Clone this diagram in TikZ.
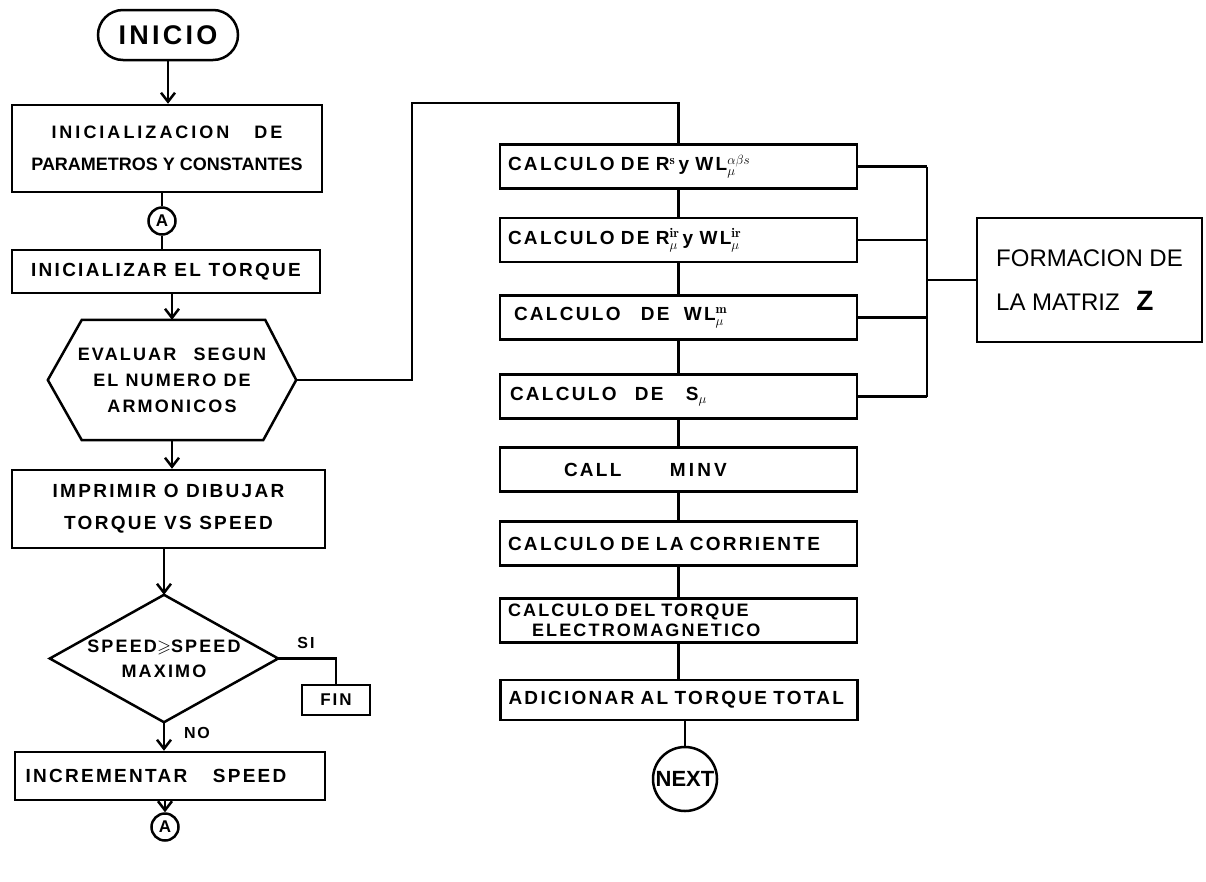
\documentclass[tikz,border=0pt]{standalone}
\usepackage{fix-cm}
\usepackage{amssymb}
\usepackage{fontspec}
\usetikzlibrary{positioning,arrows.meta}
\newfontfamily\rotulo{Liberation Sans}[LetterSpace=12]
\newfontfamily\plano{Liberation Sans}

\tikzset{
  linea/.style={line width=2.5pt},
  flecha/.style={line width=2.5pt, -{Straight Barb[length=9pt,width=14pt]}},
  caja/.style={draw, line width=2.5pt, inner sep=0pt, align=center,
    font=\rotulo\bfseries\fontsize{19}{32}\selectfont},
  calculo/.style={draw, line width=2.5pt, minimum height=44pt, text width=341pt,
    inner xsep=8pt, inner ysep=0pt, align=left,
    font=\rotulo\bfseries\fontsize{19}{22}\selectfont},
  conector/.style={draw, circle, line width=2.5pt, minimum size=27pt, inner sep=0pt,
    font=\plano\bfseries\fontsize{17}{17}\selectfont},
  etiqueta/.style={font=\rotulo\bfseries\fontsize{16}{16}\selectfont, inner sep=0pt}
}

\begin{document}
\begin{tikzpicture}[x=1pt, y=-1pt]
  \useasboundingbox (0,0) rectangle (1206,881);

  % Left column
  \node[caja, rounded corners=25pt, minimum width=140pt, minimum height=50pt,
    font=\rotulo\bfseries\fontsize{27}{27}\selectfont] (inicio) at (168,35) {INICIO};
  \node[caja, minimum width=310pt, minimum height=87pt,
    font=\plano\bfseries\fontsize{18}{32}\selectfont] (init) at (167,148.5)
    {I\,N\,I\,C\,I\,A\,L\,I\,Z\,A\,C\,I\,O\,N\hspace{20pt} D\,E\\PARAMETROS Y CONSTANTES};
  \node[conector] (ca) at (162,221) {A};
  \node[caja, minimum width=308pt, minimum height=43pt] (torque) at (166,271.5)
    {INICIALIZAR EL TORQUE};

  % Hexagon (drawn round the node)
  \node[align=center, minimum width=248pt, minimum height=120pt, inner sep=0pt,
    font=\rotulo\bfseries\fontsize{18}{26}\selectfont] (hex) at (172,380)
    {EVALUAR\hspace{10pt} SEGUN\\EL NUMERO DE\\ARMONICOS};
  \draw[linea] (hex.west) -- ([xshift=34pt]hex.north west) -- ([xshift=-31pt]hex.north east)
    -- (hex.east) -- ([xshift=-33pt]hex.south east) -- ([xshift=34pt]hex.south west) -- cycle;

  \node[caja, minimum width=313pt, minimum height=78pt] (print) at (168.5,509)
    {IMPRIMIR O DIBUJAR\\TORQUE VS SPEED};

  % Decision (drawn round the node)
  \node[align=center, minimum width=228pt, minimum height=127pt, inner sep=0pt,
    font=\rotulo\bfseries\fontsize{18}{25}\selectfont] (dec) at (164,658.5)
    {SPEED$\geqslant$SPEED\\MAXIMO};
  \draw[linea] (dec.north) -- (dec.east) -- (dec.south) -- (dec.west) -- cycle;

  \node[caja, minimum width=68pt, minimum height=30pt,
    font=\rotulo\bfseries\fontsize{17}{17}\selectfont] (fin) at (336,700) {FIN};
  \node[caja, minimum width=310pt, minimum height=48pt] (incr) at (170,776)
    {INCREMENTAR\hspace{18pt} SPEED\hspace{28pt}};
  \node[conector] (cb) at (165,827) {A};
  \node[etiqueta] (si) at (306,643) {SI};
  \node[etiqueta] (no) at (197,733) {NO};

  \draw[flecha] (inicio.south) -- (inicio.south |- init.north);
  \draw[linea] (init.south -| ca) -- (ca);
  \draw[linea] (ca) -- (ca |- torque.north);
  \draw[flecha] (torque.south -| hex.north) -- (hex.north);
  \draw[flecha] (hex.south) -- (hex.south |- print.north);
  \draw[flecha] (print.south -| dec.north) -- (dec.north);
  \draw[linea] (dec.east) -| (fin.north);
  \draw[flecha] (dec.south) -- (dec.south |- incr.north);
  \draw[flecha] (incr.south -| cb) -- (cb);

  % Right column
  \node[calculo] (r1) at (678.5,166.5)
    {CALCULO DE R$^{\mathbf{s}}$\,y WL$^{\alpha\beta s}_{\mu}$};
  \node[calculo] (r2) at (678.5,240)
    {CALCULO DE R$^{\mathbf{ir}}_{\mu}$\,y WL$^{\mathbf{ir}}_{\mu}$};
  \node[calculo] (r3) at (678.5,317.5)
    {\hspace*{6pt}CALCULO\hspace{14pt} DE\hspace{8pt} WL$^{\mathbf{m}}_{\mu}$};
  \node[calculo] (r4) at (678.5,396.5)
    {\hspace*{2pt}CALCULO\hspace{12pt} DE\hspace{16pt} S$_{\mu}$};
  \node[calculo] (r5) at (678.5,469.5)
    {\hspace*{56pt}CALL\hspace{42pt} M\,I\,N\,V};
  \node[calculo] (r6) at (678.5,543.5) {CALCULO DE LA CORRIENTE};
  \node[calculo, font=\rotulo\bfseries\fontsize{18}{20}\selectfont] (r7) at (678.5,620.5)
    {CALCULO DEL TORQUE\\\hspace*{24pt}ELECTROMAGNETICO};
  \node[calculo, minimum height=40pt] (r8) at (679,700) {ADICIONAR AL TORQUE TOTAL};
  \node[draw, circle, line width=2.5pt, minimum size=64pt, inner sep=0pt,
    font=\plano\bfseries\fontsize{22}{22}\selectfont] (next) at (685,779) {NEXT};

  \node[draw, line width=2.5pt, minimum width=225pt, minimum height=124pt, inner sep=0pt,
    align=left, font=\plano\fontsize{24}{44}\selectfont] (matz) at (1089.5,280)
    {FORMACION DE\\LA MATRIZ\hspace{10pt} {\bfseries\fontsize{28}{28}\selectfont Z}};

  \coordinate (salto) at (412,103);
  \coordinate (bus) at (927,280);

  % Connections
  \draw[linea] (hex.east) -| (salto) -| (r1.north);
  \foreach \a/\b in {r1/r2,r2/r3,r3/r4,r4/r5,r5/r6,r6/r7,r7/r8}
    \draw[linea] (\a.south) -- (\a.south |- \b.north);
  \draw[linea] (r8.south -| next) -- (next);

  \foreach \r in {r1,r2,r3,r4}
    \draw[linea] (\r.east) -- (\r.east -| bus);
  \draw[linea] (r1.east -| bus) -- (r4.east -| bus);
  \draw[linea] (bus) -- (matz.west);
\end{tikzpicture}
\end{document}
